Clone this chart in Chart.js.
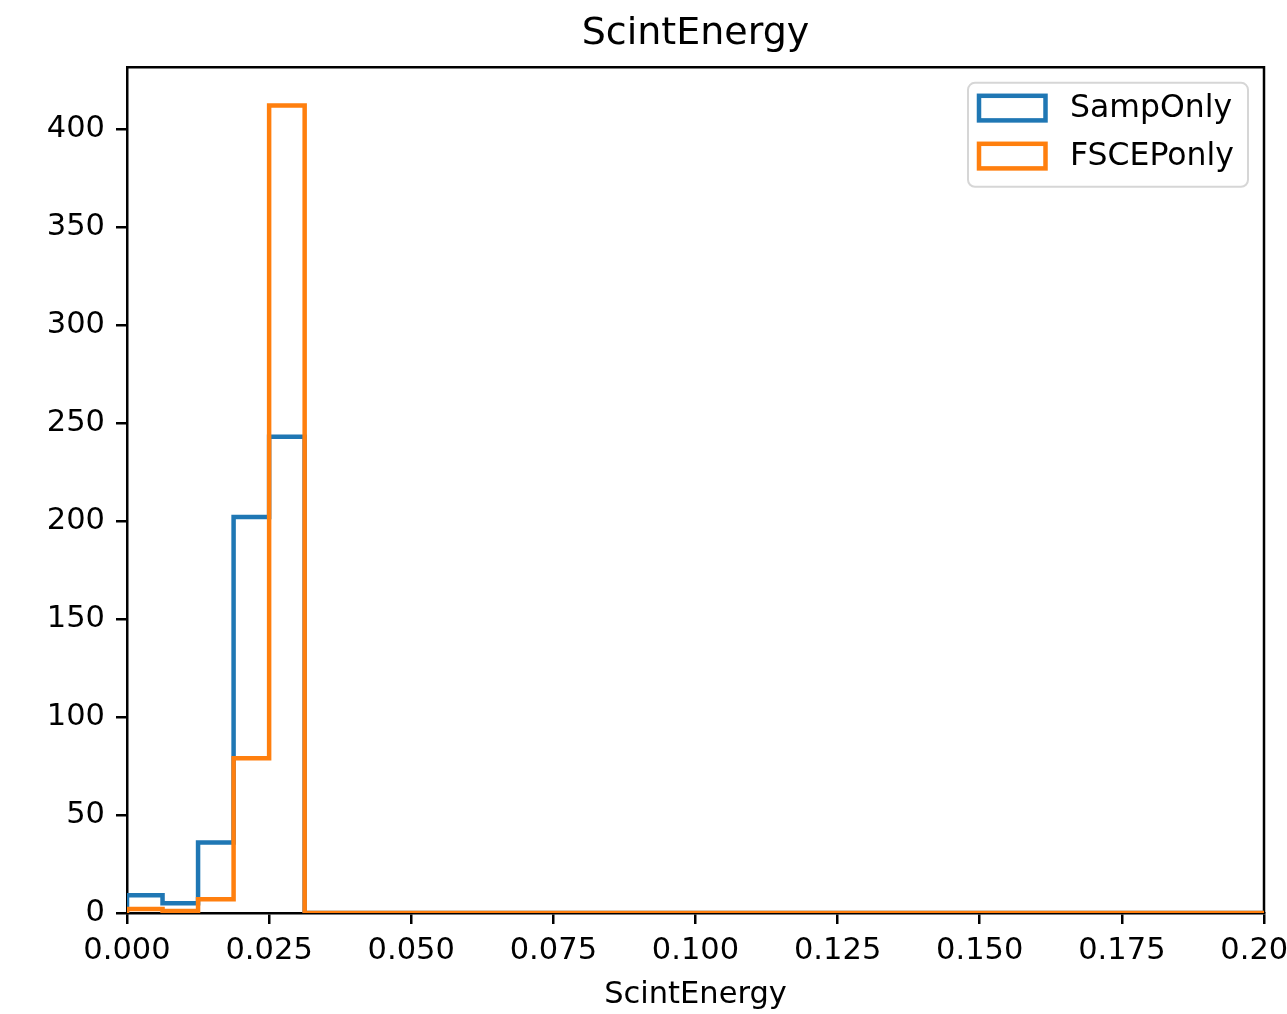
<!DOCTYPE html>
<html><head><meta charset="utf-8">
<script src="https://cdn.jsdelivr.net/npm/chart.js@4/dist/chart.umd.min.js"></script>
<style>html,body{margin:0;padding:0;background:#fff;overflow:hidden}</style>
</head><body>
<canvas id="c" width="1287" height="1014"></canvas>
<script>
const chartTitle = 'ScintEnergy';
const xAxisLabel = 'ScintEnergy';
const seriesNames = ['SampOnly', 'FSCEPonly'];
const seriesColors = ['#1f77b4', '#ff7f0e'];
const binEdges = [0, 0.00625, 0.0125, 0.01875, 0.025, 0.03125, 0.0375, 0.04375, 0.05, 0.05625,
  0.0625, 0.06875, 0.075, 0.08125, 0.0875, 0.09375, 0.1, 0.10625, 0.1125, 0.11875,
  0.125, 0.13125, 0.1375, 0.14375, 0.15, 0.15625, 0.1625, 0.16875, 0.175, 0.18125,
  0.1875, 0.19375, 0.2];
const sampOnlyCounts = [9, 5, 36, 202, 243, 0, 0, 0, 0, 0, 0, 0, 0, 0, 0, 0,
  0, 0, 0, 0, 0, 0, 0, 0, 0, 0, 0, 0, 0, 0, 0, 0];
const fscepOnlyCounts = [2, 1, 7, 79, 412, 0, 0, 0, 0, 0, 0, 0, 0, 0, 0, 0,
  0, 0, 0, 0, 0, 0, 0, 0, 0, 0, 0, 0, 0, 0, 0, 0];
const xTicks = [0, 0.025, 0.05, 0.075, 0.1, 0.125, 0.15, 0.175, 0.2];
const yTicks = [0, 50, 100, 150, 200, 250, 300, 350, 400];
const xRange = [0, 0.2];
const yRange = [0, 431.5];

// histogram step outline built from edges + counts
function stepPoints(edges, counts) {
  const pts = [{x: edges[0], y: 0}];
  for (let i = 0; i < counts.length; i++) pts.push({x: edges[i], y: counts[i]});
  pts.push({x: edges[edges.length - 1], y: counts[counts.length - 1]});
  pts.push({x: edges[edges.length - 1], y: 0});
  return pts;
}

const FONT = '"DejaVu Sans", sans-serif';
const TICK_SIZE = 30.5;
const LEGEND_SIZE = 31.5;

const framePlugin = {
  id: 'frameLegend',
  beforeDatasetsDraw(chart) {
    const {ctx, chartArea: a} = chart;
    ctx.save();
    ctx.strokeStyle = '#000';
    ctx.lineWidth = 2.5;
    ctx.beginPath();
    ctx.moveTo(a.left, a.top);
    ctx.lineTo(a.right, a.top);
    ctx.lineTo(a.right, a.bottom);
    ctx.stroke();
    ctx.restore();
  },
  afterDraw(chart) {
    const {ctx, chartArea: a} = chart;
    const w = 280, h = 104;
    const bx = a.right - 16 - w, by = a.top + 15.5;
    ctx.save();
    ctx.beginPath();
    if (ctx.roundRect) ctx.roundRect(bx, by, w, h, 7); else ctx.rect(bx, by, w, h);
    ctx.fillStyle = 'rgba(255,255,255,0.8)';
    ctx.fill();
    ctx.strokeStyle = '#d6d6d6';
    ctx.lineWidth = 2;
    ctx.stroke();
    ctx.font = LEGEND_SIZE + 'px ' + FONT;
    ctx.textBaseline = 'middle';
    ctx.textAlign = 'left';
    seriesNames.forEach((name, i) => {
      const cy = by + 25.3 + i * 48;
      ctx.strokeStyle = seriesColors[i];
      ctx.lineWidth = 4.5;
      ctx.lineJoin = 'miter';
      ctx.strokeRect(bx + 11, cy - 12.3, 66.5, 24.6);
      ctx.fillStyle = '#000';
      ctx.fillText(name, bx + 102, cy + 1);
    });
    ctx.restore();
  }
};

new Chart(document.getElementById('c'), {
  type: 'line',
  data: {
    datasets: [
      {
        label: seriesNames[0],
        data: stepPoints(binEdges, sampOnlyCounts),
        borderColor: seriesColors[0],
        borderWidth: 4.5,
        stepped: 'before',
        fill: false,
        pointRadius: 0,
        tension: 0,
        order: 1,
        clip: {left: 0, top: 0, right: 0, bottom: 0}
      },
      {
        label: seriesNames[1],
        data: stepPoints(binEdges, fscepOnlyCounts),
        borderColor: seriesColors[1],
        borderWidth: 4.5,
        stepped: 'before',
        fill: false,
        pointRadius: 0,
        tension: 0,
        order: 0,
        clip: {left: 0, top: 0, right: 0, bottom: 0}
      }
    ]
  },
  options: {
    responsive: false,
    animation: false,
    devicePixelRatio: 1,
    layout: {padding: {left: 0, right: 23, top: 0, bottom: 0}},
    plugins: {
      legend: {display: false},
      tooltip: {enabled: false},
      title: {
        display: true,
        text: chartTitle,
        fullSize: false,
        color: '#000',
        font: {family: FONT, size: 38, weight: 'normal', lineHeight: 1.2},
        padding: {top: 11, bottom: 10.7}
      }
    },
    scales: {
      x: {
        type: 'linear',
        min: xRange[0],
        max: xRange[1],
        afterBuildTicks: s => { s.ticks = xTicks.map(v => ({value: v})); },
        afterFit: s => { s.height = 101; s.paddingLeft = 0; s.paddingRight = 0; },
        ticks: {
          autoSkip: false, maxRotation: 0, minRotation: 0,
          color: '#000', padding: 9,
          font: {family: FONT, size: TICK_SIZE},
          callback: v => Number(v).toFixed(3)
        },
        grid: {display: true, drawOnChartArea: false, drawTicks: true, tickLength: 11,
               lineWidth: 2.5, tickWidth: 2.5, tickColor: '#000', color: '#000'},
        border: {display: true, color: '#000', width: 2.5},
        title: {display: true, text: xAxisLabel, color: '#000',
                font: {family: FONT, size: TICK_SIZE}, padding: {top: 0, bottom: 1}}
      },
      y: {
        type: 'linear',
        min: yRange[0],
        max: yRange[1],
        afterBuildTicks: s => { s.ticks = yTicks.map(v => ({value: v})); },
        afterFit: s => { s.width = 127; s.paddingTop = 0; s.paddingBottom = 0; },
        ticks: {
          autoSkip: false, color: '#000', padding: 11,
          font: {family: FONT, size: TICK_SIZE},
          callback: v => String(v)
        },
        grid: {display: true, drawOnChartArea: false, drawTicks: true, tickLength: 11,
               lineWidth: 2.5, tickWidth: 2.5, tickColor: '#000', color: '#000'},
        border: {display: true, color: '#000', width: 2.5}
      }
    }
  },
  plugins: [framePlugin]
});
</script>
</body></html>
